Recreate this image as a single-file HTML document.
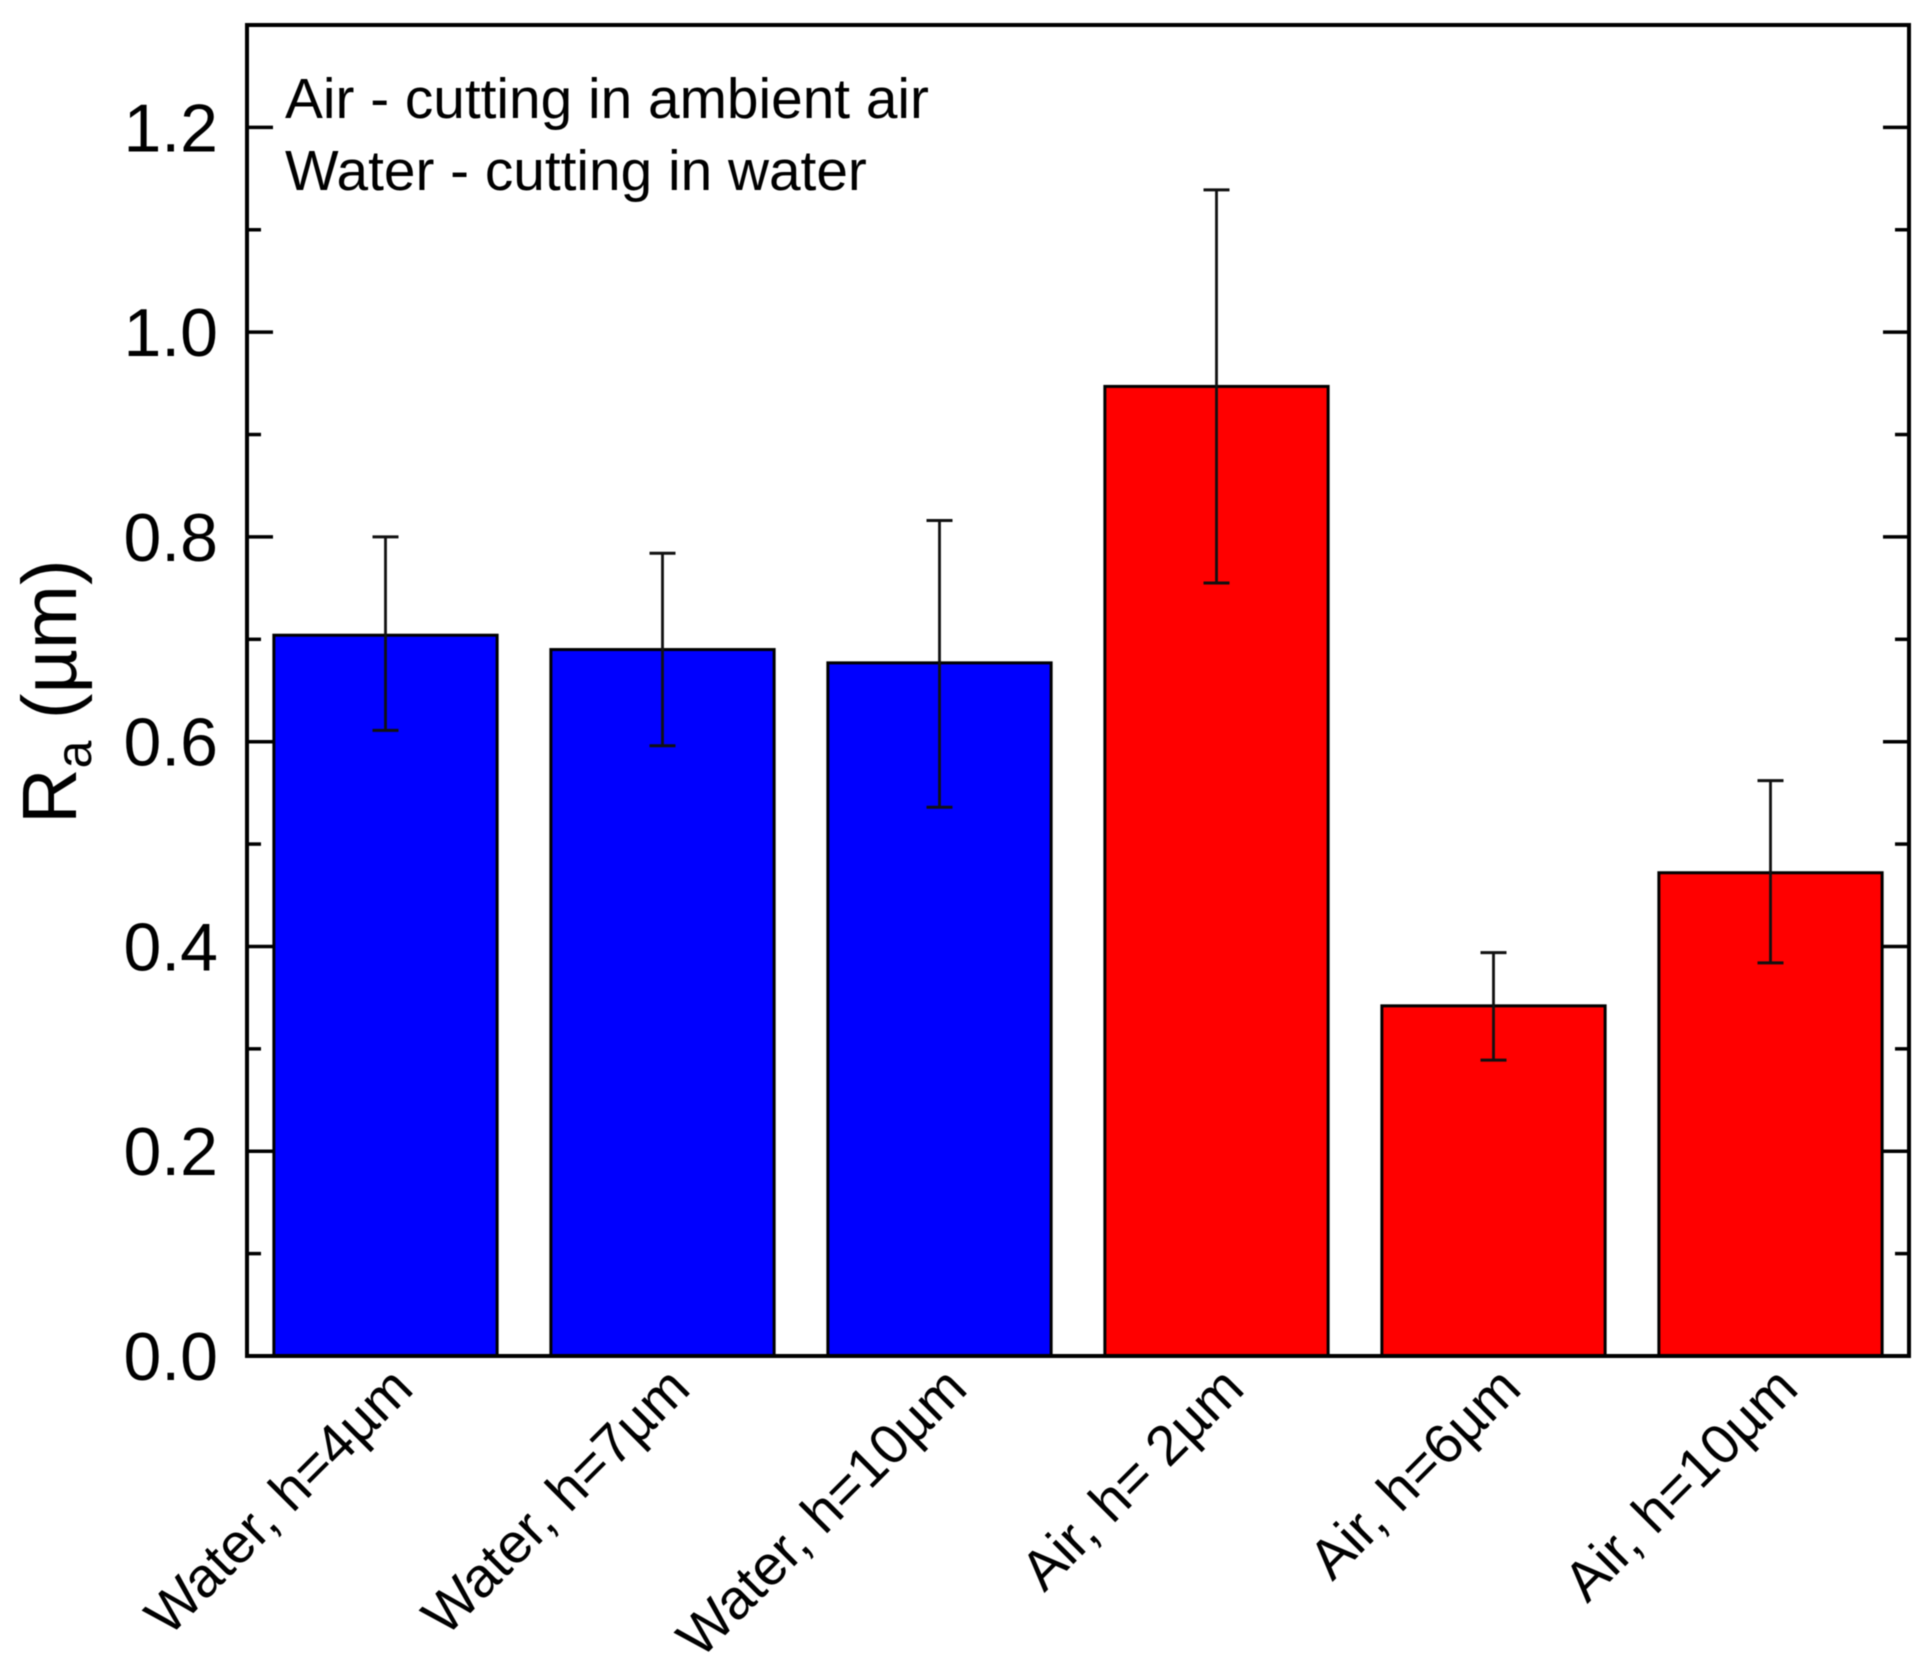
<!DOCTYPE html>
<html>
<head>
<meta charset="utf-8">
<title>Surface roughness chart</title>
<style>
html,body{margin:0;padding:0;background:#fff;}
svg{display:block;filter:blur(0.6px);}
text{font-family:"Liberation Sans",Arial,sans-serif;fill:#000;}
</style>
</head>
<body>
<svg id="chart" xmlns="http://www.w3.org/2000/svg" width="1924" height="1670" viewBox="0 0 1924 1670">
  <rect x="0" y="0" width="1924" height="1670" fill="#fff"/>
  <g id="bars"></g>
  <g id="errors"></g>
  <g id="ticks"></g>
  <rect x="247" y="25" width="1662" height="1331" fill="none" stroke="#000" stroke-width="4"/>
  <g id="labels"></g>
  <text x="285" y="118" font-size="56.8">Air - cutting in ambient air</text>
  <text x="285" y="190" font-size="56.8">Water - cutting in water</text>
  <text transform="translate(76,824) rotate(-90)" font-size="77">R<tspan font-size="50" dy="15">a</tspan><tspan dy="-15"> (µm)</tspan></text>
</svg>
<script>
const categories = ["Water, h=4µm", "Water, h=7µm", "Water, h=10µm", "Air, h= 2µm", "Air, h=6µm", "Air, h=10µm"];
const values = [0.704, 0.690, 0.677, 0.947, 0.342, 0.472];
const errorUpper = [0.800, 0.784, 0.816, 1.139, 0.394, 0.562];
const errorLower = [0.611, 0.596, 0.536, 0.755, 0.289, 0.384];
const barGroups = ["water", "water", "water", "air", "air", "air"];
const majorTicks = [0.0, 0.2, 0.4, 0.6, 0.8, 1.0, 1.2];
const minorTicks = [0.1, 0.3, 0.5, 0.7, 0.9, 1.1];
const majorTickLabels = ["0.0", "0.2", "0.4", "0.6", "0.8", "1.0", "1.2"];

const SVG_NS = "http://www.w3.org/2000/svg";
const plot = {left: 247, right: 1909, top: 25, bottom: 1356};
const yMax = 1.3;
const groupColors = {water: "#0000ff", air: "#ff0000"};
const barFraction = 0.806;

function yScale(v) {
  return plot.bottom - (v / yMax) * (plot.bottom - plot.top);
}
function xBand() {
  return (plot.right - plot.left) / categories.length;
}
function xScale(i) {
  return plot.left + (i + 0.5) * xBand();
}
function make(tag, attrs, parent) {
  const el = document.createElementNS(SVG_NS, tag);
  for (const k in attrs) el.setAttribute(k, attrs[k]);
  parent.appendChild(el);
  return el;
}

const barsG = document.getElementById("bars");
const errorsG = document.getElementById("errors");
const ticksG = document.getElementById("ticks");
const labelsG = document.getElementById("labels");

categories.forEach(function (cat, i) {
  const w = xBand() * barFraction;
  const cx = xScale(i);
  const bar = make("rect", {
    x: cx - w / 2,
    y: yScale(values[i]),
    width: w,
    height: plot.bottom - yScale(values[i]),
    fill: groupColors[barGroups[i]],
    stroke: "#000",
    "stroke-width": 3
  }, barsG);
  
  

  const stem = make("line", {
    x1: cx, x2: cx, y1: yScale(errorUpper[i]), y2: yScale(errorLower[i]),
    stroke: "#111", "stroke-width": 2.8
  }, errorsG);
  
  

  const capTop = make("line", {
    x1: cx - 13, x2: cx + 13, y1: yScale(errorUpper[i]), y2: yScale(errorUpper[i]),
    stroke: "#111", "stroke-width": 3
  }, errorsG);
  
  

  const capBottom = make("line", {
    x1: cx - 13, x2: cx + 13, y1: yScale(errorLower[i]), y2: yScale(errorLower[i]),
    stroke: "#111", "stroke-width": 3
  }, errorsG);
  
  

  const lx = cx + 30;
  const ly = 1391;
  const label = make("text", {
    x: lx, y: ly, "text-anchor": "end", "font-size": 56,
    transform: "rotate(-45 " + lx + " " + ly + ")"
  }, labelsG);
  label.textContent = cat;
  
  
});

majorTicks.forEach(function (t, i) {
  const y = yScale(t);
  [[plot.left, plot.left + 26], [plot.right, plot.right - 26]].forEach(function (p, side) {
    const tick = make("line", {x1: p[0], x2: p[1], y1: y, y2: y, stroke: "#000", "stroke-width": 3.5}, ticksG);
    
    
  });
  const label = make("text", {x: 218, y: y + 24, "text-anchor": "end", "font-size": 68}, labelsG);
  label.textContent = majorTickLabels[i];
  
  
});

minorTicks.forEach(function (t) {
  const y = yScale(t);
  [[plot.left, plot.left + 14], [plot.right, plot.right - 14]].forEach(function (p, side) {
    const tick = make("line", {x1: p[0], x2: p[1], y1: y, y2: y, stroke: "#000", "stroke-width": 3.5}, ticksG);
    
    
  });
});
</script>
</body>
</html>
